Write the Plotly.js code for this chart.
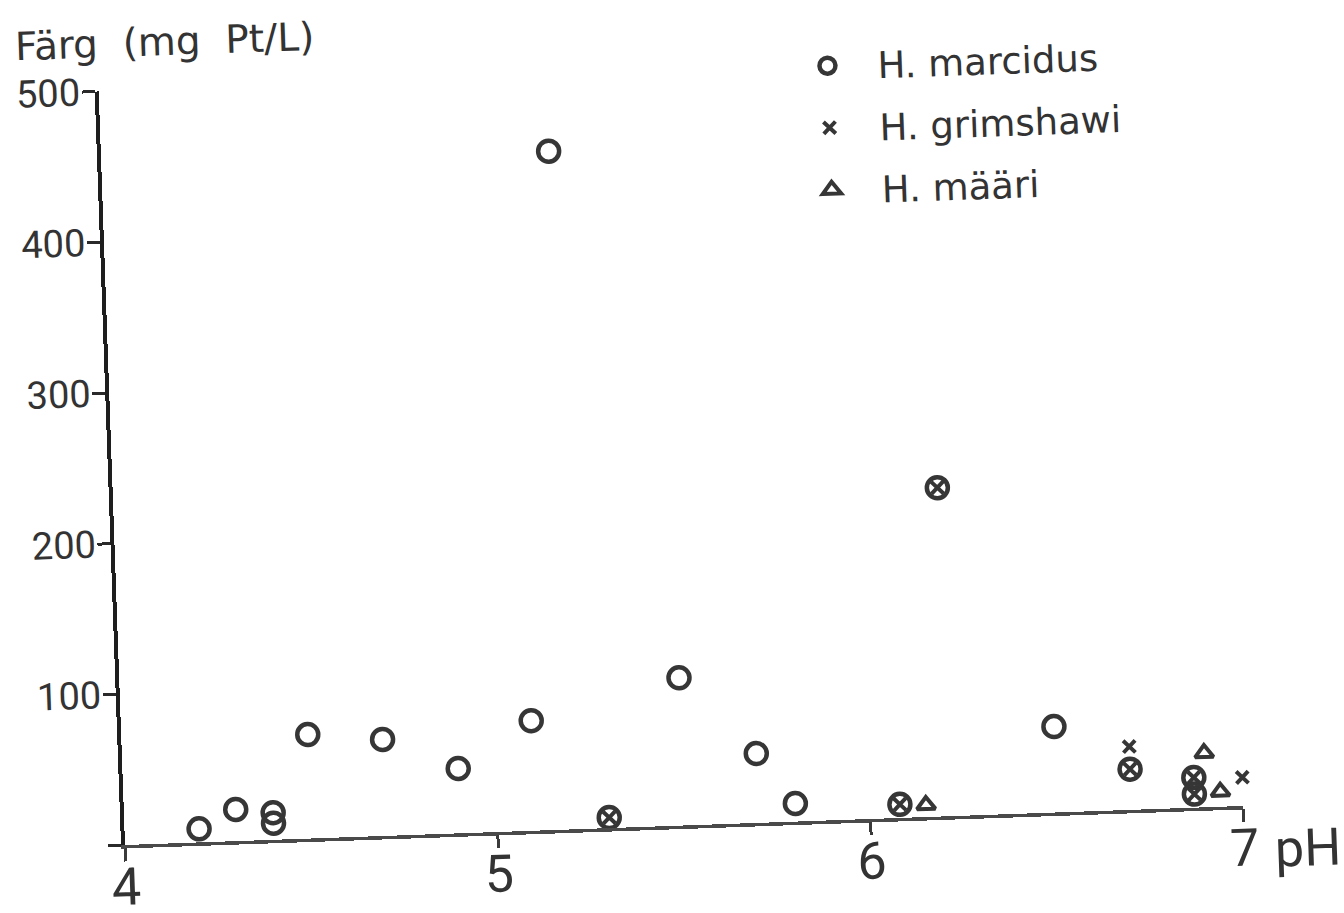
<!DOCTYPE html>
<html>
<head>
<meta charset="utf-8">
<script src="https://cdn.plot.ly/plotly-3.0.1.min.js"></script>
<style>
  html, body { margin:0; padding:0; background:#ffffff; overflow:hidden; }
  #plot { width:1344px; height:960px; transform: rotate(-2deg); transform-origin: 125px 845px; }
</style>
</head>
<body>
<div id="plot"></div>
<script>
// H. marcidus (circles)
var marcidusPH    = [4.2, 4.3, 4.4, 4.4, 4.5, 4.7, 4.9, 5.1, 5.2, 5.3, 5.5, 5.7, 5.8, 6.08, 6.21, 6.5, 6.7, 6.87, 6.87];
var marcidusColor = [9,   21,  18,  11,  69,  64,  43,  73,  450, 7,   98,  46,  12,  9,    218,  57,  27,  20,   9];
// H. grimshawi (crosses)
var grimshawiPH    = [5.3, 6.08, 6.21, 6.7, 6.7, 6.87, 6.87, 7.0];
var grimshawiColor = [7,   9,    218,  27,  42,  20,   9,    19];
// H. määri (triangles)
var maariPH    = [6.15, 6.9, 6.94];
var maariColor = [8,    36,  10];

var xTickVals = [4, 5, 6, 7];
var xTickText = ['4', '5', '6', '7'];
var yTickVals = [0, 100, 200, 300, 400, 500];
var yTickText = ['', '100', '200', '300', '400', '500'];

var ink = '#363636';

var traces = [
  { type:'scatter', mode:'markers', name:'H. marcidus', x:marcidusPH, y:marcidusColor,
    legendgroup:'a', cliponaxis:false,
    marker:{ symbol:'circle-open', size:21, color:ink, line:{ width:4.5, color:ink } } },
  { type:'scatter', mode:'markers', name:'H. grimshawi', x:grimshawiPH, y:grimshawiColor,
    legendgroup:'b', cliponaxis:false,
    marker:{ symbol:'x-thin-open', size:12, color:ink, line:{ width:4, color:ink } } },
  { type:'scatter', mode:'markers', name:'H. määri', x:maariPH, y:maariColor,
    legendgroup:'c', cliponaxis:false,
    marker:{ symbol:'triangle-up-open', size:16, color:ink, line:{ width:4, color:ink } } }
];

var layout = {
  width:1344, height:960,
  margin:{ l:125, r:100, t:91, b:115 },
  paper_bgcolor:'#ffffff', plot_bgcolor:'rgba(0,0,0,0)',
  showlegend:true,
  legend:{ x:0.607, y:1.041, xanchor:'left', yanchor:'top', traceorder:'grouped', tracegroupgap:11,
           itemwidth:90, font:{ family:'DejaVu Sans', size:37, color:'#333' }, bgcolor:'rgba(0,0,0,0)' },
  xaxis:{ range:[4,7], tickmode:'array', tickvals:xTickVals, ticktext:xTickText,
          showline:true, linecolor:'#4a4a4a', linewidth:3.5, ticks:'outside', ticklen:13, tickwidth:3, tickcolor:'#3a3a3a',
          showgrid:false, zeroline:false, fixedrange:true, ticklabelstandoff:-19,
          tickfont:{ family:'Roboto', size:52, color:'#333' } },
  yaxis:{ range:[0,500], tickmode:'array', tickvals:yTickVals, ticktext:yTickText,
          showline:true, linecolor:'#1e1e1e', linewidth:4, ticks:'outside', ticklen:13, tickwidth:3, tickcolor:'#2a2a2a',
          showgrid:false, zeroline:false, fixedrange:true, ticklabelstandoff:-6,
          tickfont:{ family:'Roboto', size:38, color:'#333' } },
  annotations:[
    { xref:'paper', yref:'paper', x:-0.075, y:1.03, xanchor:'left', yanchor:'bottom', showarrow:false,
      text:'Färg\u00a0 (mg\u00a0 Pt/L)', font:{ family:'DejaVu Sans', size:39, color:'#333' } },
    { xref:'x', yref:'y', x:7, y:0, xanchor:'left', yanchor:'top', xshift:28, yshift:-12, showarrow:false,
      text:'pH', font:{ family:'Roboto', size:52, color:'#333' } }
  ]
};

Plotly.newPlot('plot', traces, layout, { staticPlot:true, displayModeBar:false });
</script>
</body>
</html>
